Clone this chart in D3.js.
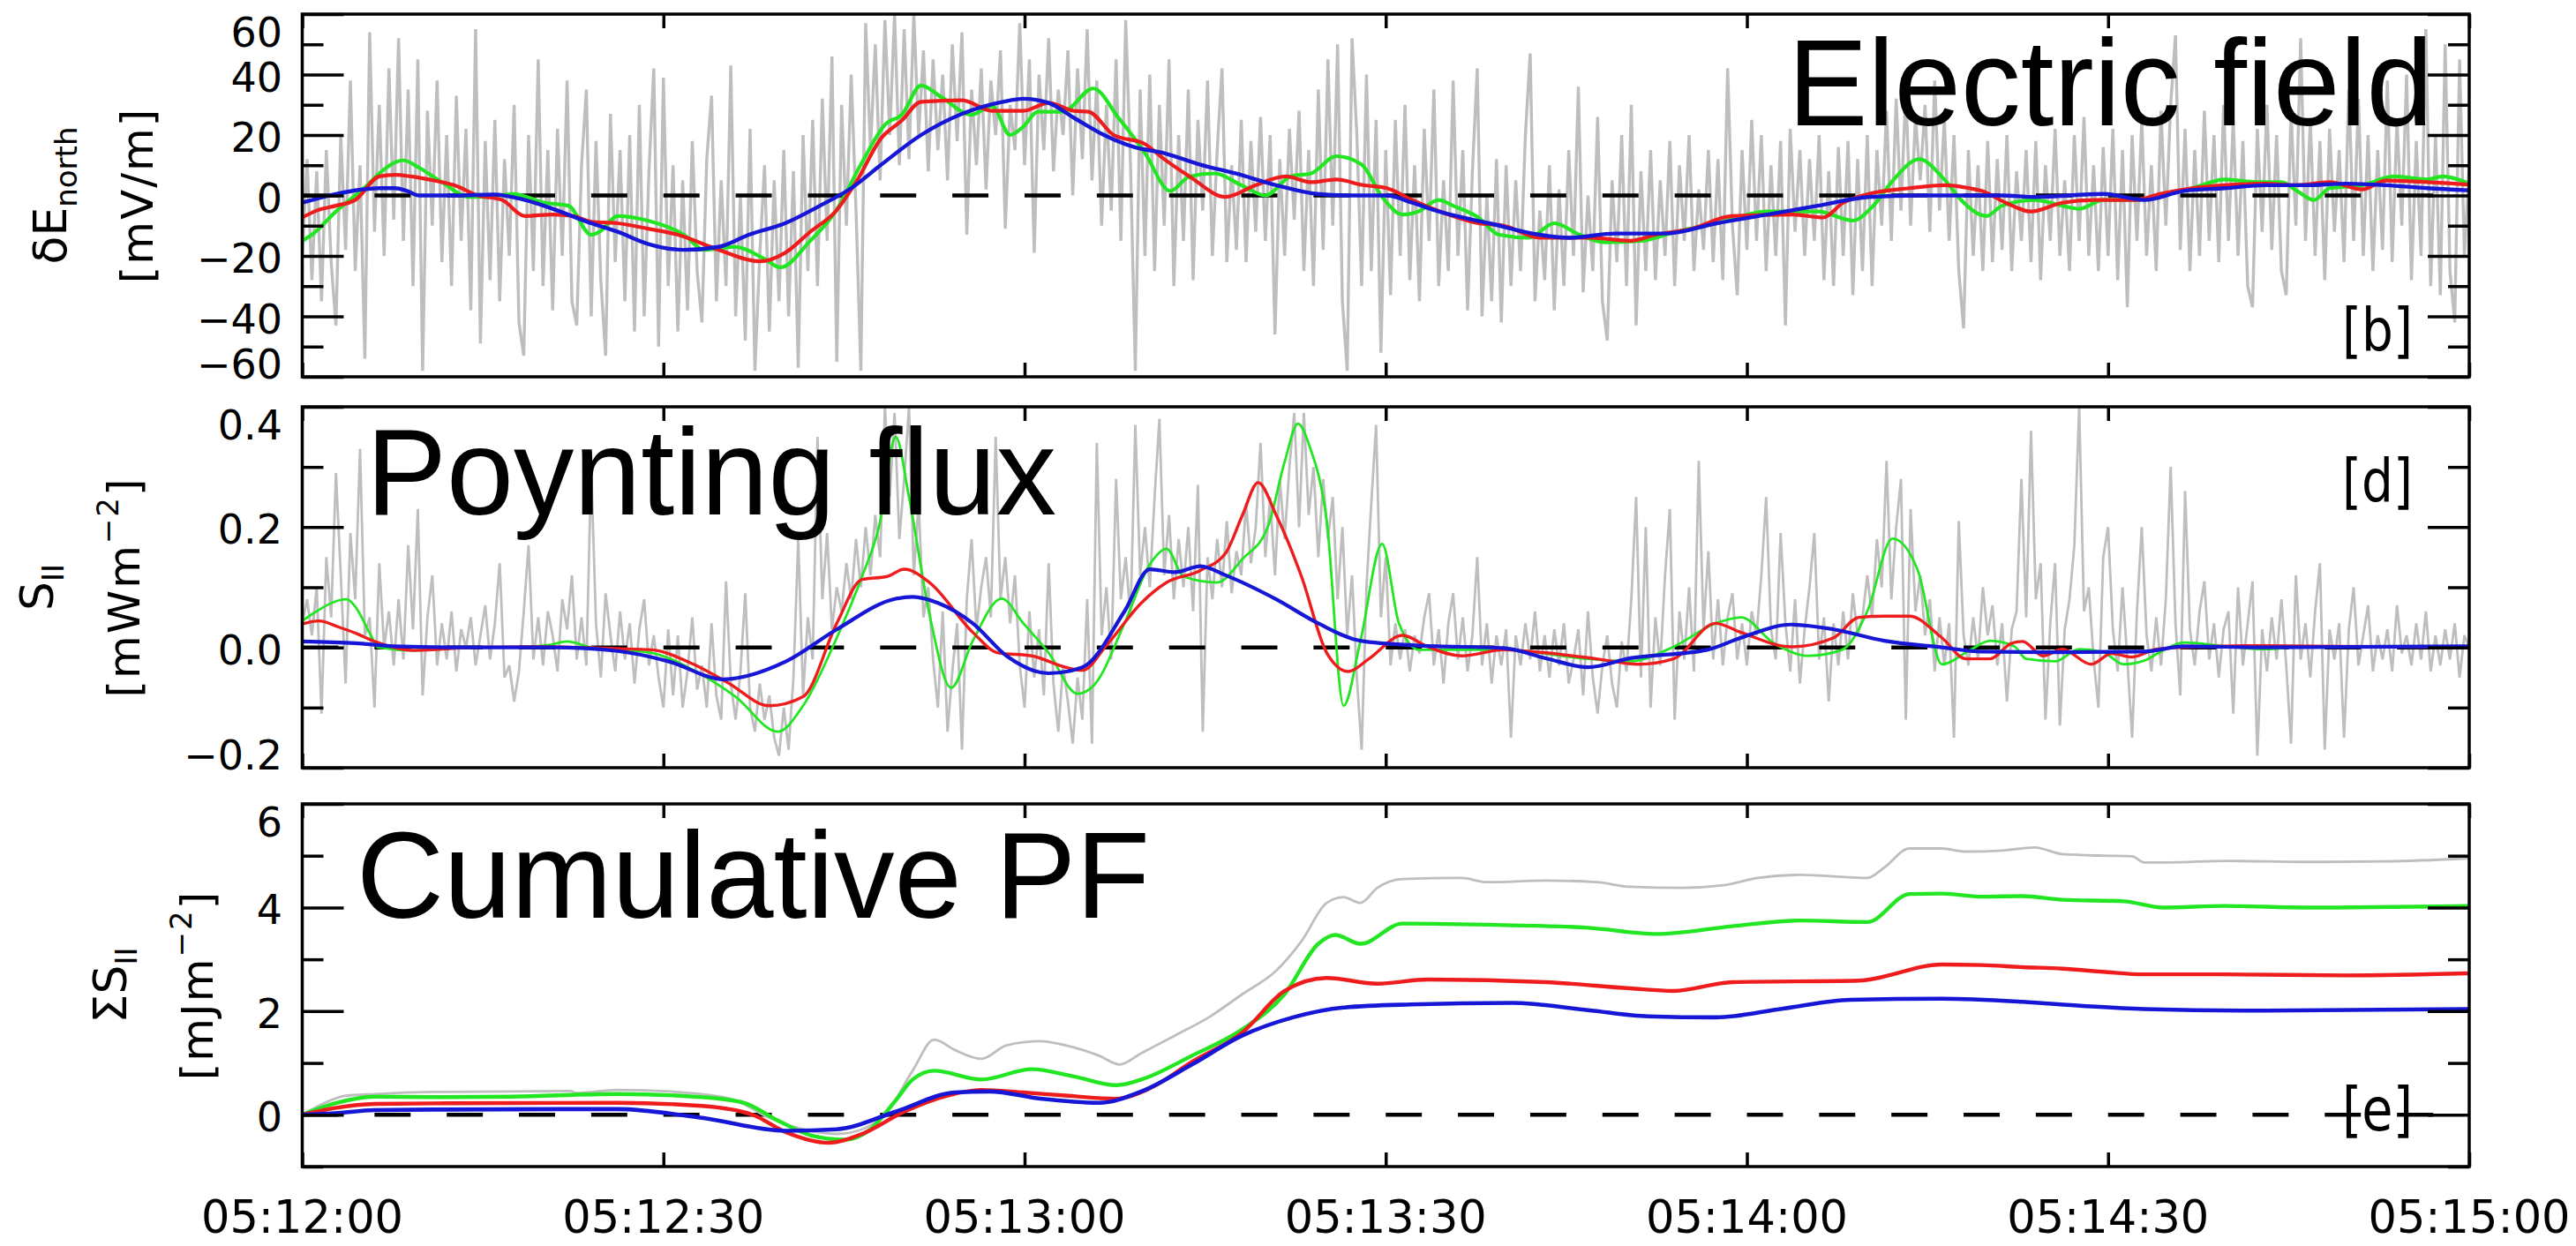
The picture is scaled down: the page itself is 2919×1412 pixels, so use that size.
<!DOCTYPE html>
<html>
<head>
<meta charset="utf-8">
<script src="https://cdn.jsdelivr.net/npm/d3@7"></script>
<style>
  html, body { margin: 0; padding: 0; background: #fff; overflow: hidden; }
  svg { display: block; }
</style>
</head>
<body>
<svg id="chart" width="2919" height="1412"></svg>
<script>
// ---------------- data ----------------
// time axis: seconds after 05:12:00
const timeTicks = [0, 30, 60, 90, 120, 150, 180];
const timeLabels = ["05:12:00", "05:12:30", "05:13:00", "05:13:30", "05:14:00", "05:14:30", "05:15:00"];
const rawSampleStep = 0.4; // seconds between raw samples

// y ticks
const eTicks = [-60, -40, -20, 0, 20, 40, 60];
const eMinor = [-50, -30, -10, 10, 30, 50];
const sTicks = [-0.2, 0.0, 0.2, 0.4];
const sMinor = [-0.1, 0.1, 0.3];
const cTicks = [0, 2, 4, 6];
const cMinor = [-1, 1, 3, 5];

// raw delta E north [mV/m]
const eRaw = [
  -20,12,-28,8,-35,15,-22,-43,20,-18,38,-25,10,-54,54,-12,30,-20,42,-8,52,-15,35,-30,45,
  -58,28,-10,38,-22,20,-30,33,-15,22,-38,55,-49,18,-28,25,-35,12,-20,30,-42,-53,20,-25,45,
  -30,15,-38,22,-20,38,-35,-43,10,35,-40,18,-28,-53,27,-22,15,-35,20,-45,30,-40,8,42,-50,
  39,-30,10,-45,5,-38,18,-25,-42,12,33,-35,5,-30,43,-40,0,-48,22,-58,-20,10,-45,5,-35,
  15,-40,8,-57,20,-25,25,-30,32,-15,46,-55,30,-10,40,-5,-58,57,15,50,5,58,20,60,10,
  55,12,60,20,48,8,45,15,40,5,50,18,54,-13,35,10,42,2,38,20,48,-11,30,15,57,
  10,45,-19,40,15,52,8,35,20,48,0,42,12,55,5,38,-10,30,-5,45,-15,58,10,-58,35,
  -20,40,-25,30,-10,45,-30,20,-15,35,-28,25,-5,38,-20,15,42,-22,10,-18,25,-22,18,-12,26,
  -15,20,-46,12,-20,22,-8,28,-25,15,-30,35,-18,45,-10,50,-35,-58,52,20,-30,40,-25,25,-52,
  15,-33,25,-20,30,-28,10,-35,22,-15,35,-30,5,-25,38,-20,15,-38,8,42,-40,0,-35,12,-42,
  10,-30,5,-25,20,47,-35,-5,-28,10,-38,2,-30,15,-20,36,-32,0,-25,26,-35,-48,5,-22,20,
  -30,30,-43,8,-25,15,-28,5,-20,18,-30,10,-15,20,-25,2,-18,15,-22,12,-28,42,-10,-33,15,
  -18,25,-15,20,-25,10,-20,18,-43,22,-12,15,-20,12,-15,20,-28,8,-30,16,-20,18,-33,12,-25,
  20,-30,15,-10,28,-15,32,-5,35,-10,26,5,30,-12,38,-5,25,-15,20,-25,-44,15,-20,10,-25,
  18,-22,12,-18,20,-25,8,-15,15,-22,18,-28,10,-15,22,-20,5,-25,20,-15,26,-20,10,-25,16,
  -20,22,-28,15,-37,20,-15,25,-20,10,-25,28,-10,30,53,-18,22,-25,15,-20,28,-15,20,-22,30,
  -15,25,-20,18,-30,-37,22,-12,30,-18,20,-25,-33,28,-10,52,-15,25,-20,18,-28,22,-12,15,-22,
  35,-15,32,-20,20,-25,15,-18,38,-22,25,-10,40,-28,18,-20,55,-30,20,-33,50,-25,-42,45,-20,
  10
];

// smoothed delta E north [seconds, mV/m]
const eGreen = [[0,-15],[0.8,-13],[2.8,-5.3],[5.4,3.4],[6.4,7.3],[8.4,11.6],[9.7,9.2],[11.6,4.4],[13.9,-0.5],[15.2,-0.5],[17.5,0.5],[20.1,-2.4],[22.1,-3.4],[24,-13],[24.7,-12],[26.2,-6.8],[28.7,-8.3],[31.7,-13],[33.4,-18],[35.9,-17],[38.4,-21],[39.7,-23.8],[42.2,-15],[44.3,-5.3],[46.4,10.2],[48.5,23.8],[49.8,26.7],[51.4,36.4],[53.1,32.5],[55.6,26.7],[57.3,29.6],[58.8,20],[59.9,22.8],[61.1,27.7],[63.2,27.7],[65.7,35.4],[67.8,25.7],[70,14],[72.1,1.5],[73.7,6.3],[75.8,7.3],[78,3.4],[80,0],[82.1,6.3],[83.8,7.3],[85.9,13],[88,10.2],[89.7,-0.5],[91.4,-6.3],[92.7,-5.3],[94.4,-1.5],[95.6,-3.4],[97.7,-7.3],[99.4,-13],[101.9,-14],[104,-9.2],[106.1,-13],[108.2,-15.5],[111.2,-15],[114.1,-12],[117.5,-9.2],[121.7,-5.3],[125.9,-5.3],[128.8,-8.3],[130.5,-3.4],[132.2,5.3],[134.3,12],[136.4,5.3],[137.8,-1.5],[139.9,-6.8],[141.2,-3.4],[143.9,-1.5],[146.2,-3.4],[147.6,-4.4],[149.6,-1.5],[152.3,-1.5],[155,0.5],[157,2.4],[159.7,5.3],[162.4,4.4],[164.4,4.4],[165.7,1.5],[167.1,-1.5],[168.4,2.4],[171.1,3.4],[173.8,6.3],[176.5,5.3],[177.8,6.3],[180,3.9]];
const eRed = [[0,-7.3],[1.2,-5],[2.8,-3.4],[4.4,-1.5],[6.4,6.3],[7.7,6.8],[9,6.3],[11,4.9],[12.6,3.4],[14.6,0],[16.6,-1.5],[18.5,-6.8],[20.8,-6.3],[22.5,-6.8],[24,-8.7],[26.2,-9.2],[28.7,-11],[31.2,-13],[34.6,-18],[38,-21.8],[40.1,-19],[42.2,-12],[44.3,-5.3],[46,4.4],[48.1,19],[49.8,24.8],[51.4,31],[54.8,31.5],[57.3,28],[59.9,28],[62,30.6],[64.1,28],[65.3,27.7],[67.4,20],[70,17],[71.6,12],[73.7,6.3],[76.7,-0.5],[79.2,3.4],[81.7,6.3],[83.8,4.4],[85.9,5.3],[88,3.5],[90.1,2.4],[92.2,-1.5],[95.2,-6.3],[97.7,-9.2],[99.8,-10],[102.8,-14],[107,-14],[110.3,-15],[112.4,-13],[115.4,-11],[118.7,-6.8],[123.8,-6.3],[126.3,-7.3],[128,-2.4],[130.1,0.5],[133.5,2.4],[136.4,3.4],[138.5,2.4],[139.5,1.5],[141.5,-2.4],[143.6,-5.3],[146.2,-2.4],[148.9,-1.5],[152.3,-1.5],[154.3,0.5],[157,2.4],[159.7,3.4],[163,3.9],[165.7,3.4],[168.4,4.4],[171.1,2],[173.1,4.9],[176.5,4.4],[180,3.6]];
const eBlue = [[0,-2.4],[2.8,0.5],[6.4,2.4],[7.7,2.4],[8.7,1.5],[9.7,0],[12.6,0],[15.9,0.3],[18.5,-1.5],[20.8,-4.4],[24,-9.2],[26.2,-12],[28.7,-16],[31.7,-18],[34.6,-17],[37.1,-13],[40.1,-9.2],[43,-3.4],[45.6,2.4],[48.1,10.2],[51.4,20],[54.8,27],[58.2,31],[59.9,32],[62,30.6],[64.1,25.7],[66.6,20],[69.1,16],[71.6,14],[74.6,10.2],[77.5,7.3],[80.9,3.4],[84.3,0.5],[87.2,0],[90.1,0],[92.2,-2.4],[94.4,-5.3],[98.6,-9.2],[102.8,-13],[105.3,-14],[109.1,-12.6],[113.3,-12.6],[117.5,-9.2],[121.7,-6.3],[125.9,-3.4],[130.1,-0.5],[134.3,0],[138.5,0],[141.2,0],[143.9,-0.5],[149.6,0.5],[153,-1.5],[156.3,1.5],[159.7,2.4],[163,3.4],[166.4,3.4],[169.8,3.9],[173.1,3.4],[176.5,2.4],[180,1.7]];

// raw parallel Poynting flux [0.01 mW/m^2]
const sRaw = [
  4,8,2,10,-11,15,5,29,12,-6,19,8,33,2,5,-10,14,0,6,-3,8,-2,17,3,23,
  -8,5,12,-3,4,-2,6,-4,3,0,5,-3,2,7,-2,4,14,-5,-3,-9,-4,6,17,-2,5,
  -3,6,2,-4,8,3,12,-2,5,-3,30,4,-5,9,2,-4,6,-2,4,-6,3,8,-3,2,-5,
  -10,3,-8,2,-10,-4,5,-7,-3,-10,4,-8,-12,11,-6,-12,-4,9,-10,-14,-6,-12,-8,-15,-18,
  -10,-17,-5,18,-8,5,-2,35,8,19,3,10,6,14,8,18,10,20,12,22,15,40,25,39,18,
  28,40,12,24,5,10,-2,-10,6,-14,-4,4,-17,8,18,3,10,15,5,35,8,15,4,12,-3,
  -10,6,-5,3,-8,14,-6,-14,-3,-9,-16,-5,-12,8,-16,34,2,10,-2,28,8,15,5,37,12,
  20,10,25,38,12,22,8,18,10,20,6,27,-14,15,8,18,10,21,9,16,12,24,14,20,34,
  15,25,12,28,18,30,39,20,39,22,30,15,28,18,25,8,20,2,12,-5,-17,10,24,37,5,
  15,-3,4,-2,3,-4,2,-1,5,9,-3,3,-6,4,9,-2,5,-4,2,15,-3,4,-6,2,-3,
  3,-15,2,-3,4,-2,6,-4,2,-5,3,-3,4,-6,-2,3,-8,6,-5,-11,-3,2,-6,-10,1,
  -4,8,25,-5,20,-10,5,-3,12,23,-12,6,-2,10,-4,31,3,16,-2,8,-3,5,9,-2,4,
  -3,6,2,12,25,3,-2,19,4,-4,8,-6,3,10,19,-2,5,-9,4,-3,6,-2,9,2,5,
  12,5,18,10,31,8,20,28,-12,23,6,12,2,8,-4,5,-3,4,-15,21,2,-3,5,-2,10,
  2,7,-3,4,-9,3,6,28,5,36,8,14,-12,4,14,-13,3,8,17,40,6,10,-2,-10,15,
  20,3,-4,10,-2,-15,6,20,2,-4,5,-3,8,30,4,-8,26,3,-3,6,11,-2,4,-5,3,
  6,-11,10,-3,4,11,-18,3,-4,5,-2,8,-3,-16,12,-2,4,-5,6,14,-17,3,-2,4,-15,
  3,10,-3,2,7,-4,2,-2,3,-4,7,-1,2,-3,4,-2,6,-4,2,-3,3,-2,4,-5,2,
  0
];

// smoothed parallel Poynting flux [seconds, mW/m^2]
const sGreen = [[0,0.044],[1.1,0.059],[3,0.078],[3.7,0.08],[4.4,0.068],[5.7,0.02],[6.3,0],[9.3,-0.005],[14.2,0],[17.5,0],[20.5,0.004],[22,0.01],[24,0],[26.2,-0.004],[29,-0.009],[32.5,-0.038],[36,-0.082],[39.5,-0.14],[41.6,-0.097],[44.4,0.016],[46.5,0.118],[47.9,0.2],[49.3,0.35],[50.4,0.25],[52.1,0.055],[53.9,-0.067],[55.7,0.011],[58.1,0.081],[59.9,0.04],[62,-0.009],[64.4,-0.077],[65.8,-0.062],[68.3,0.04],[70.4,0.138],[71.8,0.164],[73.2,0.118],[76,0.108],[78.1,0.147],[80.2,0.2],[81.6,0.308],[82.7,0.372],[83.7,0.333],[85.1,0.21],[86.5,-0.097],[87.9,0.011],[89.7,0.172],[91.1,0.04],[92.8,-0.004],[99.8,-0.004],[106.8,-0.019],[110.3,-0.023],[113.9,0.001],[117.4,0.04],[119.5,0.05],[122.3,0.006],[125.1,-0.014],[127.9,-0.004],[130,0.06],[132.1,0.181],[134.2,0.128],[136.2,-0.028],[138.5,-0.005],[140.2,0.011],[142.2,0.002],[143.2,-0.019],[145.6,-0.023],[147.6,-0.003],[149.6,-0.008],[151.3,-0.028],[153,-0.022],[154.3,-0.008],[156.3,0.008],[159.7,0.002],[163,-0.003],[166.4,0.002],[180,0.002]];
const sRed = [[0,0.039],[1.4,0.044],[3,0.034],[4.4,0.024],[6,0.01],[9.3,-0.005],[14.2,0],[20,0.001],[26.2,-0.002],[29,-0.004],[32.5,-0.028],[35.3,-0.058],[38.8,-0.097],[41.6,-0.082],[44.4,0.04],[46.5,0.113],[48.6,0.118],[50,0.13],[52.1,0.108],[55.7,0.025],[57.8,-0.009],[60.6,-0.014],[63.4,-0.033],[64.8,-0.038],[66.9,0.006],[69.7,0.074],[71.8,0.108],[74.6,0.128],[76.7,0.157],[78.1,0.22],[79.4,0.274],[80.9,0.22],[83,0.118],[85.1,-0.009],[86.9,-0.04],[88.6,-0.019],[91.4,0.02],[93.5,0.001],[96.3,-0.014],[99.8,-0.004],[103.3,-0.009],[107.5,-0.019],[111,-0.028],[113.9,-0.019],[117.4,0.04],[119.5,0.025],[123.7,0.001],[127.2,0.016],[129.3,0.05],[131.4,0.052],[133.5,0.052],[136.2,0.016],[138.2,-0.019],[140.2,-0.019],[141.9,0.006],[142.9,0.01],[144.6,-0.014],[146.2,-0.003],[148.6,-0.028],[150.3,-0.01],[152,-0.016],[154,-0.003],[156.3,0],[163,0.003],[180,0]];
const sBlue = [[0,0.01],[4.4,0.007],[7.6,0.002],[14.2,0],[20.8,0],[26.2,-0.006],[30.4,-0.023],[35,-0.053],[40.2,-0.023],[44.4,0.03],[49.3,0.081],[50.7,0.084],[52.8,0.074],[55.7,0.04],[58.5,-0.014],[62,-0.043],[64.8,-0.033],[68.3,0.06],[70.4,0.13],[72.5,0.125],[74.6,0.135],[76.7,0.12],[80.9,0.08],[84.4,0.04],[87.9,0.011],[92.8,0.003],[99.8,-0.001],[103.3,-0.018],[106.8,-0.033],[110.3,-0.018],[116.7,-0.004],[119.5,0.016],[123.7,0.038],[127.2,0.03],[131.4,0.011],[136.2,0],[139.5,-0.007],[146.2,-0.008],[153,-0.007],[156.3,0.002],[163,0],[180,0.002]];

// cumulative parallel Poynting flux [seconds, mJ/m^2]
const cGray = [[0,0],[2.7,0.31],[3.4,0.36],[6,0.4],[10.9,0.44],[17.4,0.45],[22.3,0.46],[22.7,0.42],[26.2,0.48],[33.2,0.4],[36,0.28],[38.8,-0.06],[41.6,-0.28],[44.4,-0.37],[46.5,-0.28],[48.6,0.06],[50.7,0.85],[52.5,1.45],[54.2,1.25],[56.4,1.08],[58.5,1.34],[61.3,1.42],[63.4,1.34],[66.2,1.14],[67.9,0.97],[69.7,1.19],[72.5,1.53],[75.3,1.88],[78.1,2.33],[80.9,2.78],[83,3.35],[85.1,4.09],[86.5,4.2],[87.9,4.09],[89.3,4.38],[91.4,4.55],[96.3,4.57],[98.4,4.49],[103.3,4.52],[107.5,4.49],[110.3,4.4],[114.6,4.38],[118.1,4.43],[120.9,4.57],[124.4,4.63],[130,4.57],[131.4,4.77],[133.5,5.14],[136.2,5.14],[138.2,5.08],[141.2,5.1],[143.9,5.16],[146.2,5.03],[149.6,5.0],[152,4.99],[153,4.87],[155,4.87],[159.7,4.9],[166.4,4.88],[173.1,4.89],[180,4.95]];
const cGreen = [[0,0],[2.7,0.22],[6,0.35],[10.9,0.34],[17.4,0.35],[26.2,0.4],[33.2,0.34],[36.7,0.23],[39.5,-0.11],[42.3,-0.4],[45.1,-0.48],[47.2,-0.28],[49.3,0.28],[50.7,0.68],[52.5,0.85],[56.4,0.68],[60.6,0.88],[64.1,0.74],[67.6,0.57],[69.7,0.68],[73.9,1.14],[78.1,1.65],[81.6,2.33],[84.4,3.3],[85.8,3.47],[87.9,3.3],[91.4,3.69],[99.8,3.66],[106.8,3.61],[112.5,3.49],[118.8,3.64],[124.4,3.75],[130,3.72],[133.5,4.26],[136.2,4.27],[139.5,4.21],[142.9,4.22],[146.2,4.15],[151.3,4.12],[154.6,4.0],[159.7,4.03],[166.4,4.0],[180,4.03]];
const cRed = [[0,0],[2.7,0.13],[6,0.21],[10.9,0.22],[26.2,0.23],[33.2,0.17],[37.4,0],[40.2,-0.34],[43.7,-0.54],[46.5,-0.37],[50,0.06],[53.6,0.37],[56.4,0.48],[59.9,0.43],[63.4,0.37],[67.6,0.31],[70.4,0.51],[73.9,1.02],[78.1,1.59],[81.6,2.39],[85.1,2.64],[89.3,2.53],[93.5,2.61],[103.3,2.56],[110.3,2.44],[113.9,2.39],[118.8,2.56],[129.3,2.59],[136.2,2.9],[139.5,2.89],[142.9,2.85],[146.2,2.82],[149.6,2.76],[153,2.71],[159.7,2.71],[169.8,2.69],[180,2.73]];
const cBlue = [[0,0],[2.7,0.03],[6,0.09],[10.9,0.1],[26.2,0.11],[33.2,-0.06],[40.2,-0.31],[44.4,-0.28],[49.3,0.06],[54.2,0.43],[57.1,0.45],[61.3,0.31],[66.2,0.23],[69.7,0.45],[73.9,0.97],[78.1,1.53],[82.3,1.88],[86.5,2.07],[92.1,2.13],[100.5,2.16],[106.8,2.02],[111.8,1.9],[117.4,1.88],[123,2.05],[128.6,2.22],[136.2,2.24],[142.9,2.18],[147.9,2.1],[153,2.04],[163,2.01],[180,2.04]];

// ---------------- layout & style ----------------
const svg = d3.select("#chart");
const plotLeft = 342.5, plotRight = 2798;
const x = d3.scaleLinear().domain([0, 180]).range([plotLeft, plotRight]);

const COLORS = { raw: "#bebebe", green: "#22e622", red: "#ee1c1c", blue: "#1616d6", black: "#000" };
const TICK_FONT = "'DejaVu Sans', sans-serif";
const BIG_FONT = "'Liberation Sans', Arial, sans-serif";

const panels = [
  {
    key: "e", top: 16, bottom: 427, domain: [-60, 60],
    major: eTicks, minor: eMinor, labels: eTicks, fmt: d3.format("d"),
    raw: eRaw, rawScale: 1, rawWidth: 3.4,
    series: [[eGreen, COLORS.green, 4.2], [eRed, COLORS.red, 4.2], [eBlue, COLORS.blue, 4.4]],
    title: { main: "δE", sub: "north", unit: ["[mV/m]"] },
    tag: "[b]", tagBaseline: 398,
    big: { text: "Electric field", x: 2026, baseline: 142, len: 731 }
  },
  {
    key: "s", top: 461, bottom: 870, domain: [-0.2, 0.4],
    major: sTicks, minor: sMinor, labels: sTicks, fmt: d3.format(".1f"),
    raw: sRaw, rawScale: 0.01, rawWidth: 2.8,
    series: [[sGreen, COLORS.green, 2.8], [sRed, COLORS.red, 3.4], [sBlue, COLORS.blue, 4.2]],
    title: { main: "S", sub: "II", unit: ["[mWm", "−2", "]"] },
    tag: "[d]", tagBaseline: 569,
    big: { text: "Poynting flux", x: 415, baseline: 583, len: 782 }
  },
  {
    key: "c", top: 911, bottom: 1322, domain: [-1, 6],
    major: cTicks, minor: cMinor, labels: cTicks, fmt: d3.format("d"),
    raw: null,
    series: [[cGray, COLORS.raw, 2.8], [cGreen, COLORS.green, 4.4], [cRed, COLORS.red, 4.4], [cBlue, COLORS.blue, 4.6]],
    title: { main: "ΣS", sub: "II", unit: ["[mJm", "−2", "]"] },
    tag: "[e]", tagBaseline: 1281,
    big: { text: "Cumulative PF", x: 404, baseline: 1040, len: 899 }
  }
];

const defs = svg.append("defs");

panels.forEach(p => {
  const y = d3.scaleLinear().domain(p.domain).range([p.bottom, p.top]);
  const g = svg.append("g").attr("class", "panel-" + p.key);

  defs.append("clipPath").attr("id", "clip-" + p.key)
    .append("rect")
    .attr("x", plotLeft).attr("y", p.top)
    .attr("width", plotRight - plotLeft).attr("height", p.bottom - p.top);

  const plot = g.append("g").attr("clip-path", `url(#clip-${p.key})`);

  // raw high-rate trace
  if (p.raw) {
    const rawLine = d3.line()
      .x((d, i) => x(i * rawSampleStep))
      .y(d => y(d * p.rawScale));
    plot.append("path").datum(p.raw)
      .attr("d", rawLine)
      .attr("fill", "none")
      .attr("stroke", COLORS.raw)
      .attr("stroke-width", p.rawWidth)
      .attr("stroke-linejoin", "miter")
      .attr("stroke-miterlimit", 3);
  }

  // dashed zero reference
  const dashPeriod = (x(30) - x(0)) / 5;
  plot.append("line")
    .attr("x1", x(0)).attr("x2", x(180))
    .attr("y1", y(0)).attr("y2", y(0))
    .attr("stroke", COLORS.black)
    .attr("stroke-width", 4.5)
    .attr("stroke-dasharray", `${dashPeriod / 2} ${dashPeriod / 2}`);

  // filtered / cumulative series
  const seriesLine = d3.line()
    .x(d => x(d[0]))
    .y(d => y(d[1]))
    .curve(d3.curveMonotoneX);
  p.series.forEach(([arr, color, w]) => {
    plot.append("path").datum(arr)
      .attr("d", seriesLine)
      .attr("fill", "none")
      .attr("stroke", color)
      .attr("stroke-width", w)
      .attr("stroke-linejoin", "round");
  });

  // panel heading text
  g.append("text")
    .attr("x", p.big.x).attr("y", p.big.baseline)
    .attr("font-family", BIG_FONT)
    .attr("font-size", 140)
    .attr("textLength", p.big.len)
    .attr("lengthAdjust", "spacingAndGlyphs")
    .attr("fill", "#000")
    .text(p.big.text);

  // panel tag
  g.append("text")
    .attr("x", 2654).attr("y", p.tagBaseline)
    .attr("font-family", TICK_FONT)
    .attr("font-size", 68)
    .attr("textLength", 80)
    .attr("lengthAdjust", "spacingAndGlyphs")
    .attr("fill", "#000")
    .text(p.tag);

  // tick marks
  const tickStyle = sel => {
    sel.select(".domain").remove();
    sel.selectAll(".tick line").attr("stroke", "#000").attr("stroke-width", 3.5);
  };
  g.append("g").attr("transform", `translate(${plotLeft},0)`)
    .call(d3.axisLeft(y).tickValues(p.major).tickSize(-47).tickFormat("")).call(tickStyle);
  g.append("g").attr("transform", `translate(${plotLeft},0)`)
    .call(d3.axisLeft(y).tickValues(p.minor).tickSize(-24).tickFormat("")).call(tickStyle);
  g.append("g").attr("transform", `translate(${plotRight},0)`)
    .call(d3.axisRight(y).tickValues(p.major).tickSize(-47).tickFormat("")).call(tickStyle);
  g.append("g").attr("transform", `translate(${plotRight},0)`)
    .call(d3.axisRight(y).tickValues(p.minor).tickSize(-24).tickFormat("")).call(tickStyle);
  g.append("g").attr("transform", `translate(0,${p.top})`)
    .call(d3.axisTop(x).tickValues(timeTicks).tickSize(-16).tickFormat("")).call(tickStyle);
  g.append("g").attr("transform", `translate(0,${p.bottom})`)
    .call(d3.axisBottom(x).tickValues(timeTicks).tickSize(-16).tickFormat("")).call(tickStyle);

  // frame
  g.append("rect")
    .attr("x", plotLeft).attr("y", p.top)
    .attr("width", plotRight - plotLeft).attr("height", p.bottom - p.top)
    .attr("fill", "none").attr("stroke", "#000").attr("stroke-width", 3.5);

  // y tick labels
  const lo = p.domain[0], hi = p.domain[1];
  const labels = g.append("g").attr("class", "ylabels");
  labels.selectAll("text").data(p.labels).join("text")
    .attr("x", 320)
    .attr("y", v => y(v) + (Math.abs(v - hi) < 1e-9 ? 21 : Math.abs(v - lo) < 1e-9 ? -14 : 3))
    .attr("text-anchor", "end")
    .attr("dominant-baseline", "central")
    .attr("font-family", TICK_FONT)
    .attr("font-size", 46)
    .attr("fill", "#000")
    .text(v => p.fmt(v));

  // y axis title (two rotated lines)
  const labelLeft = labels.node().getBBox().x;
  const unitBase = labelLeft - 50;
  const mainBase = unitBase - 98;
  const midY = (p.top + p.bottom) / 2;

  const t1 = g.append("text")
    .attr("transform", `translate(${mainBase},${midY}) rotate(-90)`)
    .attr("text-anchor", "middle")
    .attr("font-family", TICK_FONT)
    .attr("font-size", 52)
    .attr("fill", "#000");
  t1.append("tspan").text(p.title.main);
  t1.append("tspan").attr("font-size", 34).attr("dy", 12).text(p.title.sub);

  const t2 = g.append("text")
    .attr("transform", `translate(${unitBase},${midY}) rotate(-90)`)
    .attr("text-anchor", "middle")
    .attr("font-family", TICK_FONT)
    .attr("font-size", 50)
    .attr("letter-spacing", 2)
    .attr("fill", "#000");
  if (p.title.unit.length === 1) {
    t2.text(p.title.unit[0]);
  } else {
    t2.append("tspan").text(p.title.unit[0]);
    t2.append("tspan").attr("font-size", 34).attr("dy", -24).text(p.title.unit[1]);
    t2.append("tspan").attr("dy", 24).text(p.title.unit[2]);
  }
});

// shared time axis labels
svg.append("g").attr("class", "xlabels")
  .selectAll("text").data(timeTicks).join("text")
  .attr("x", d => x(d))
  .attr("y", 1379)
  .attr("text-anchor", "middle")
  .attr("dominant-baseline", "central")
  .attr("font-family", TICK_FONT)
  .attr("font-size", 51)
  .attr("fill", "#000")
  .text((d, i) => timeLabels[i]);
</script>
</body>
</html>
